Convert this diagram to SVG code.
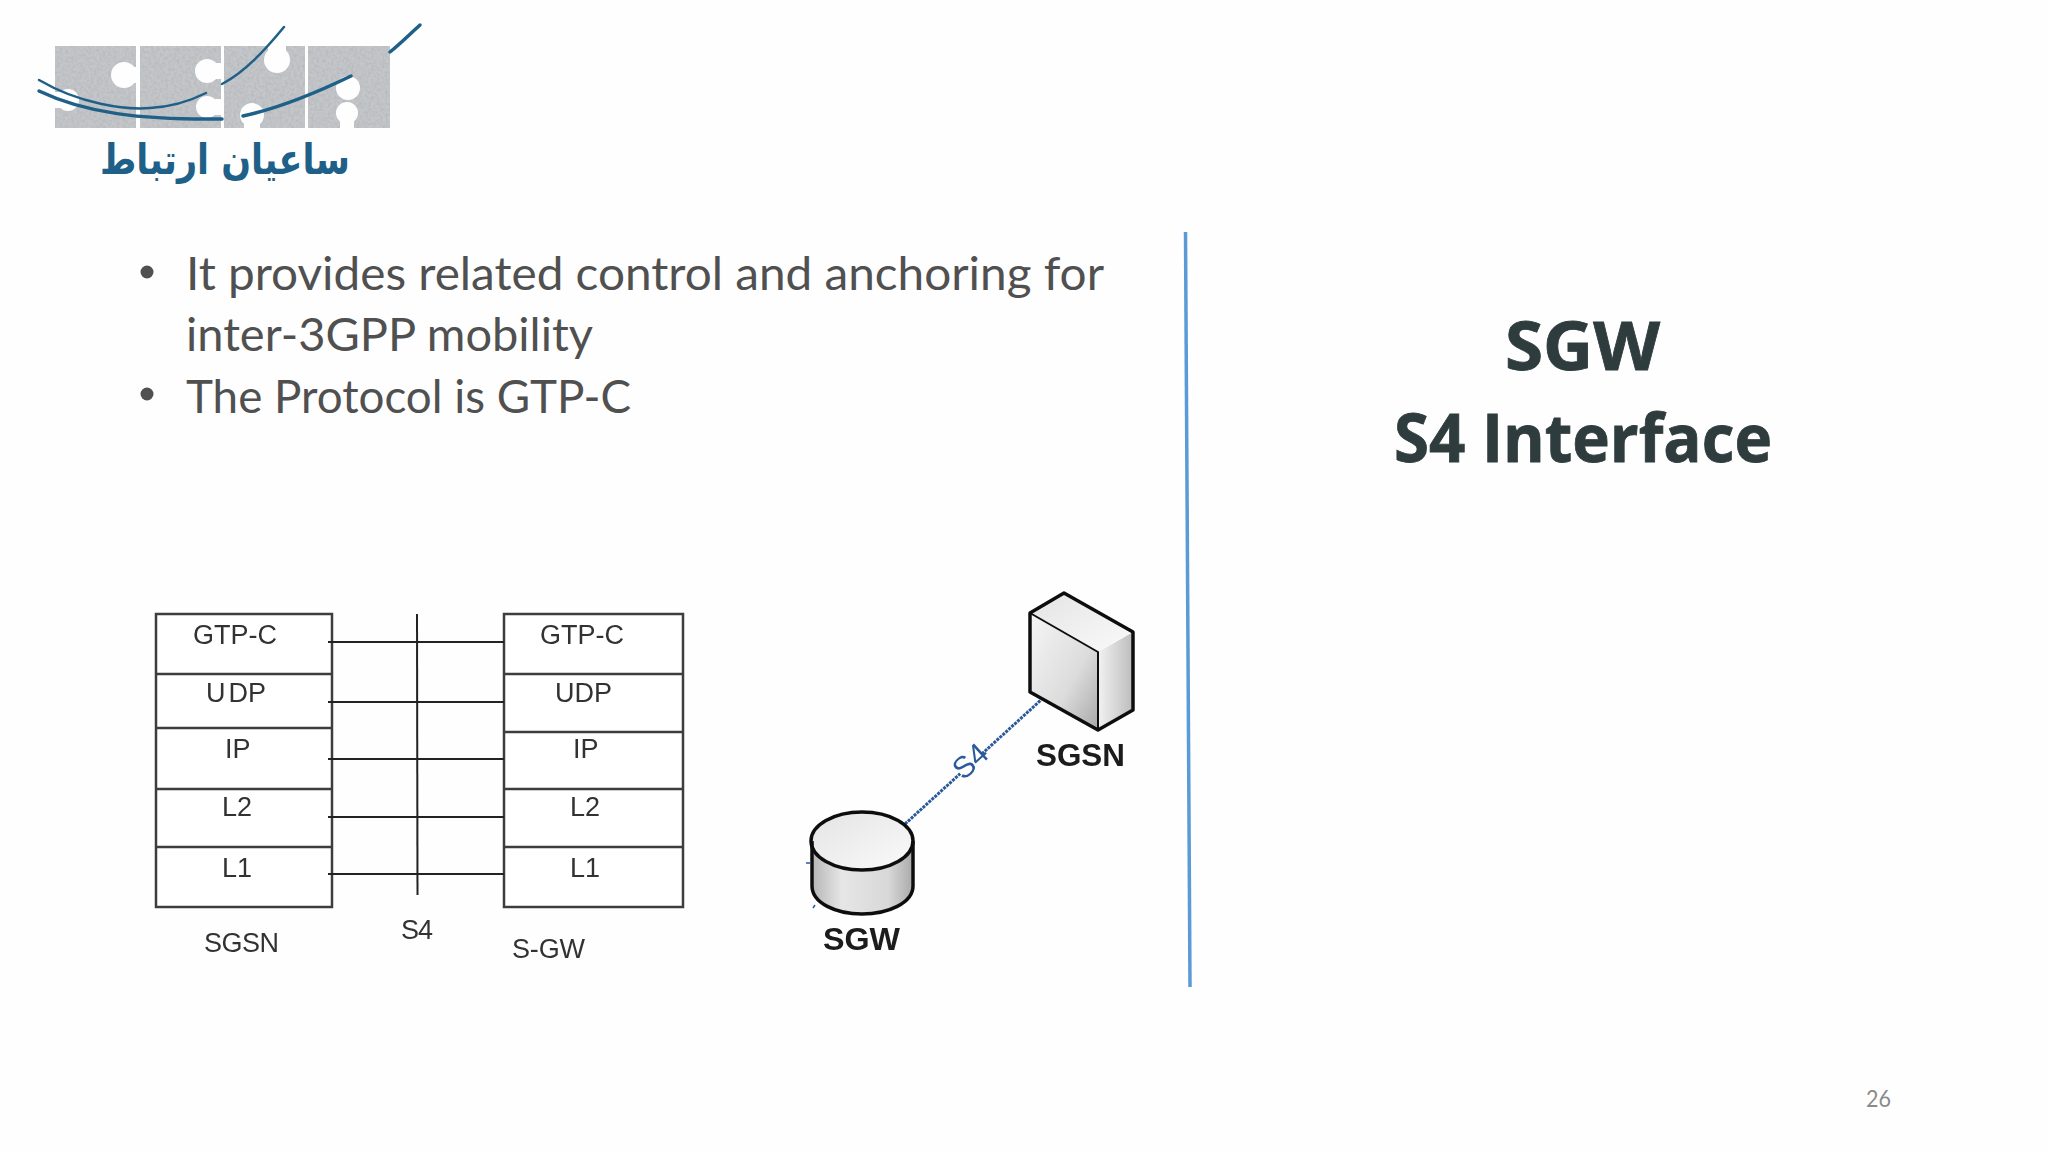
<svg xmlns="http://www.w3.org/2000/svg" width="2048" height="1152" viewBox="0 0 2048 1152">
<defs>
<style>
.bul{font-family:Lato,"Open Sans",sans-serif;font-size:46px;fill:#505050}
.ttl{font-family:"Open Sans",Lato,sans-serif;font-weight:700;font-size:66px;fill:#2f3c3e;stroke:#2f3c3e;stroke-width:0.8}
.st{font-family:"Liberation Sans",Arial,sans-serif;font-size:27px;fill:#333}
.nl{font-family:"Liberation Sans",Arial,sans-serif;font-weight:700;font-size:31px;fill:#1a1a1a}
.box{fill:#fff;stroke:#3c3c3c;stroke-width:2.5}
.lay{stroke:#3c3c3c;stroke-width:2.5;fill:none}
.con{stroke:#222;stroke-width:2;fill:none}
.arc{fill:none;stroke:#1f6088;stroke-linecap:round}
.ink{fill:none;stroke:#111;stroke-width:3.5;stroke-linejoin:round}
.thin{fill:none;stroke:#111;stroke-width:2;stroke-linejoin:round}
</style>
<filter id="soft" x="-5%" y="-5%" width="110%" height="110%"><feGaussianBlur stdDeviation="0.6"/></filter>
<filter id="speck" x="0" y="0" width="100%" height="100%">
<feTurbulence type="fractalNoise" baseFrequency="0.35" numOctaves="2" seed="3" result="n"/>
<feColorMatrix in="n" type="matrix" values="0 0 0 0 0.45  0 0 0 0 0.45  0 0 0 0 0.47  1.4 0 0 0 -0.45" result="c"/>
<feComposite in="c" in2="SourceGraphic" operator="in" result="d"/>
<feMerge><feMergeNode in="SourceGraphic"/><feMergeNode in="d"/></feMerge>
</filter>
<linearGradient id="front" x1="0" y1="0" x2="1" y2="1"><stop offset="0" stop-color="#f6f6f6"/><stop offset="0.6" stop-color="#dcdcdc"/><stop offset="1" stop-color="#a8a8a8"/></linearGradient>
<linearGradient id="side" x1="0" y1="0" x2="1" y2="0"><stop offset="0" stop-color="#f2f2f2"/><stop offset="1" stop-color="#bcbcbc"/></linearGradient>
<linearGradient id="top" x1="0" y1="0" x2="1" y2="1"><stop offset="0" stop-color="#e4e4e4"/><stop offset="1" stop-color="#fafafa"/></linearGradient>
<linearGradient id="body" x1="0" y1="0" x2="1" y2="0"><stop offset="0" stop-color="#b4b4b4"/><stop offset="0.3" stop-color="#e6e6e6"/><stop offset="0.75" stop-color="#d8d8d8"/><stop offset="1" stop-color="#a8a8a8"/></linearGradient>
</defs>
<rect width="2048" height="1152" fill="#fefefe"/>

<g id="logo">
<g filter="url(#speck)" fill="#c4c7ca">
<rect x="55" y="46" width="81" height="82"/>
<rect x="140" y="46" width="81" height="82"/>
<rect x="224" y="46" width="81" height="82"/>
<rect x="308" y="46" width="82" height="82"/>
</g>
<g fill="#fefefe">
<circle cx="124" cy="75" r="13"/><rect x="124" y="67" width="13" height="16"/>
<circle cx="68" cy="100" r="11"/><rect x="54" y="92" width="14" height="16"/>
<circle cx="207" cy="71" r="12"/><rect x="207" y="63" width="15" height="16"/>
<circle cx="207" cy="107" r="11"/><rect x="207" y="99" width="15" height="16"/>
<circle cx="277" cy="60" r="13"/><rect x="268" y="45" width="18" height="15"/>
<circle cx="252" cy="115" r="12"/><rect x="244" y="115" width="16" height="14"/>
<circle cx="348" cy="88" r="12"/>
<circle cx="347" cy="113" r="11"/><rect x="340" y="113" width="14" height="16"/>
</g>
<path class="arc" stroke-width="2.5" d="M39 80C80 104 125 110 150 108C170 107 190 101 206 93"/>
<path class="arc" stroke-width="2.5" d="M222 84C245 72 265 50 284 27"/>
<path class="arc" stroke-width="3.5" d="M39 91C85 113 140 120 222 119"/>
<path class="arc" stroke-width="3.5" d="M243 116C280 108 318 92 351 76"/>
<path class="arc" stroke-width="3.5" d="M390 52C400 44 410 34 420 25"/>
<text x="225" y="174" text-anchor="middle" direction="rtl" font-family="'DejaVu Sans',sans-serif" font-weight="700" font-size="42" fill="#1f6088" textLength="250" lengthAdjust="spacingAndGlyphs">ساعیان ارتباط</text>
</g>

<g id="bullets">
<circle cx="147" cy="272" r="6.5" fill="#505050"/>
<circle cx="147" cy="394" r="6.5" fill="#505050"/>
<text class="bul" x="186" y="290" textLength="918" lengthAdjust="spacingAndGlyphs">It provides related control and anchoring for</text>
<text class="bul" x="186" y="351" textLength="407" lengthAdjust="spacingAndGlyphs">inter-3GPP mobility</text>
<text class="bul" x="186" y="413" textLength="445" lengthAdjust="spacingAndGlyphs">The Protocol is GTP-C</text>
</g>

<g id="divider"><line x1="1185.500" y1="232" x2="1190" y2="987" stroke="#5b9bd5" stroke-width="3.500"/></g>

<g id="title">
<text class="ttl" x="1505" y="370" textLength="155" lengthAdjust="spacingAndGlyphs">SGW</text>
<text class="ttl" x="1394" y="462" textLength="378" lengthAdjust="spacingAndGlyphs">S4 Interface</text>
</g>

<g id="stack-sgsn" filter="url(#soft)">
<rect class="box" x="156" y="614" width="176" height="293"/>
<path class="lay" d="M156 674H332M156 728H332M156 789H332M156 847H332"/>
<text class="st" x="193" y="644">GTP-C</text>
<text class="st" x="206" y="702">U<tspan dx="3">DP</tspan></text>
<text class="st" x="225" y="758">IP</text>
<text class="st" x="222" y="816">L2</text>
<text class="st" x="222" y="877">L1</text>
<text class="st" x="204" y="952" textLength="75">SGSN</text>
</g>

<g id="stack-sgw" filter="url(#soft)">
<rect class="box" x="504" y="614" width="179" height="293"/>
<path class="lay" d="M504 674H683M504 732H683M504 789H683M504 847H683"/>
<text class="st" x="540" y="644">GTP-C</text>
<text class="st" x="555" y="702">UDP</text>
<text class="st" x="573" y="758">IP</text>
<text class="st" x="570" y="816">L2</text>
<text class="st" x="570" y="877">L1</text>
<text class="st" x="512" y="958" textLength="73">S-GW</text>
</g>

<g id="stack-connectors" filter="url(#soft)">
<path class="con" d="M328 642H504M328 702H504M328 759H504M328 817H504M328 874H504"/>
<line class="con" x1="417" y1="614" x2="417.500" y2="895"/>
<text class="st" x="401" y="939" textLength="32">S4</text>
</g>

<g id="connectors" filter="url(#soft)">
<line x1="905" y1="824" x2="1041" y2="700" stroke="#2a5a9a" stroke-width="3" stroke-dasharray="3 1"/>
<rect x="955" y="752" width="30" height="20" fill="#fefefe" transform="rotate(-42 970 762)"/>
<text x="971" y="771" text-anchor="middle" transform="rotate(-42 971 762)" font-family="'Liberation Sans',Arial,sans-serif" font-size="30" fill="#2a5a9a">S4</text>
</g>

<g id="node-sgsn" filter="url(#soft)">
<polygon points="1030,613 1098,652 1098,730 1030,692" fill="url(#front)"/>
<polygon points="1098,652 1133,632 1133,710 1098,730" fill="url(#side)"/>
<polygon points="1030,613 1064,593 1133,632 1098,652" fill="url(#top)"/>
<path class="ink" d="M1030 613L1064 593L1133 632V710L1098 730L1030 692Z"/>
<path class="thin" d="M1030 613L1098 652V730"/>
<text class="nl" x="1036" y="766" textLength="89" lengthAdjust="spacingAndGlyphs">SGSN</text>
</g>

<g id="node-sgw" filter="url(#soft)">
<path d="M811 841V885C811 903 834 914 862 914C890 914 914 903 914 885V841Z" fill="url(#body)"/>
<ellipse cx="862" cy="841" rx="51" ry="29" fill="url(#top)"/>
<path class="ink" d="M812 841V886C812 903 836 914 862 914C888 914 913 903 913 886V841"/>
<ellipse class="ink" cx="862" cy="841" rx="51" ry="29"/>
<path d="M806 863h4M815 905l-2 3" stroke="#2a5a9a" stroke-width="1.500" fill="none"/>
<text class="nl" x="823" y="950" textLength="77" lengthAdjust="spacingAndGlyphs">SGW</text>
</g>

<g id="page-number">
<text x="1866" y="1107" font-family="Lato,'Open Sans',sans-serif" font-size="24" fill="#8a8a8a" textLength="25" lengthAdjust="spacingAndGlyphs">26</text>
</g>
</svg>
